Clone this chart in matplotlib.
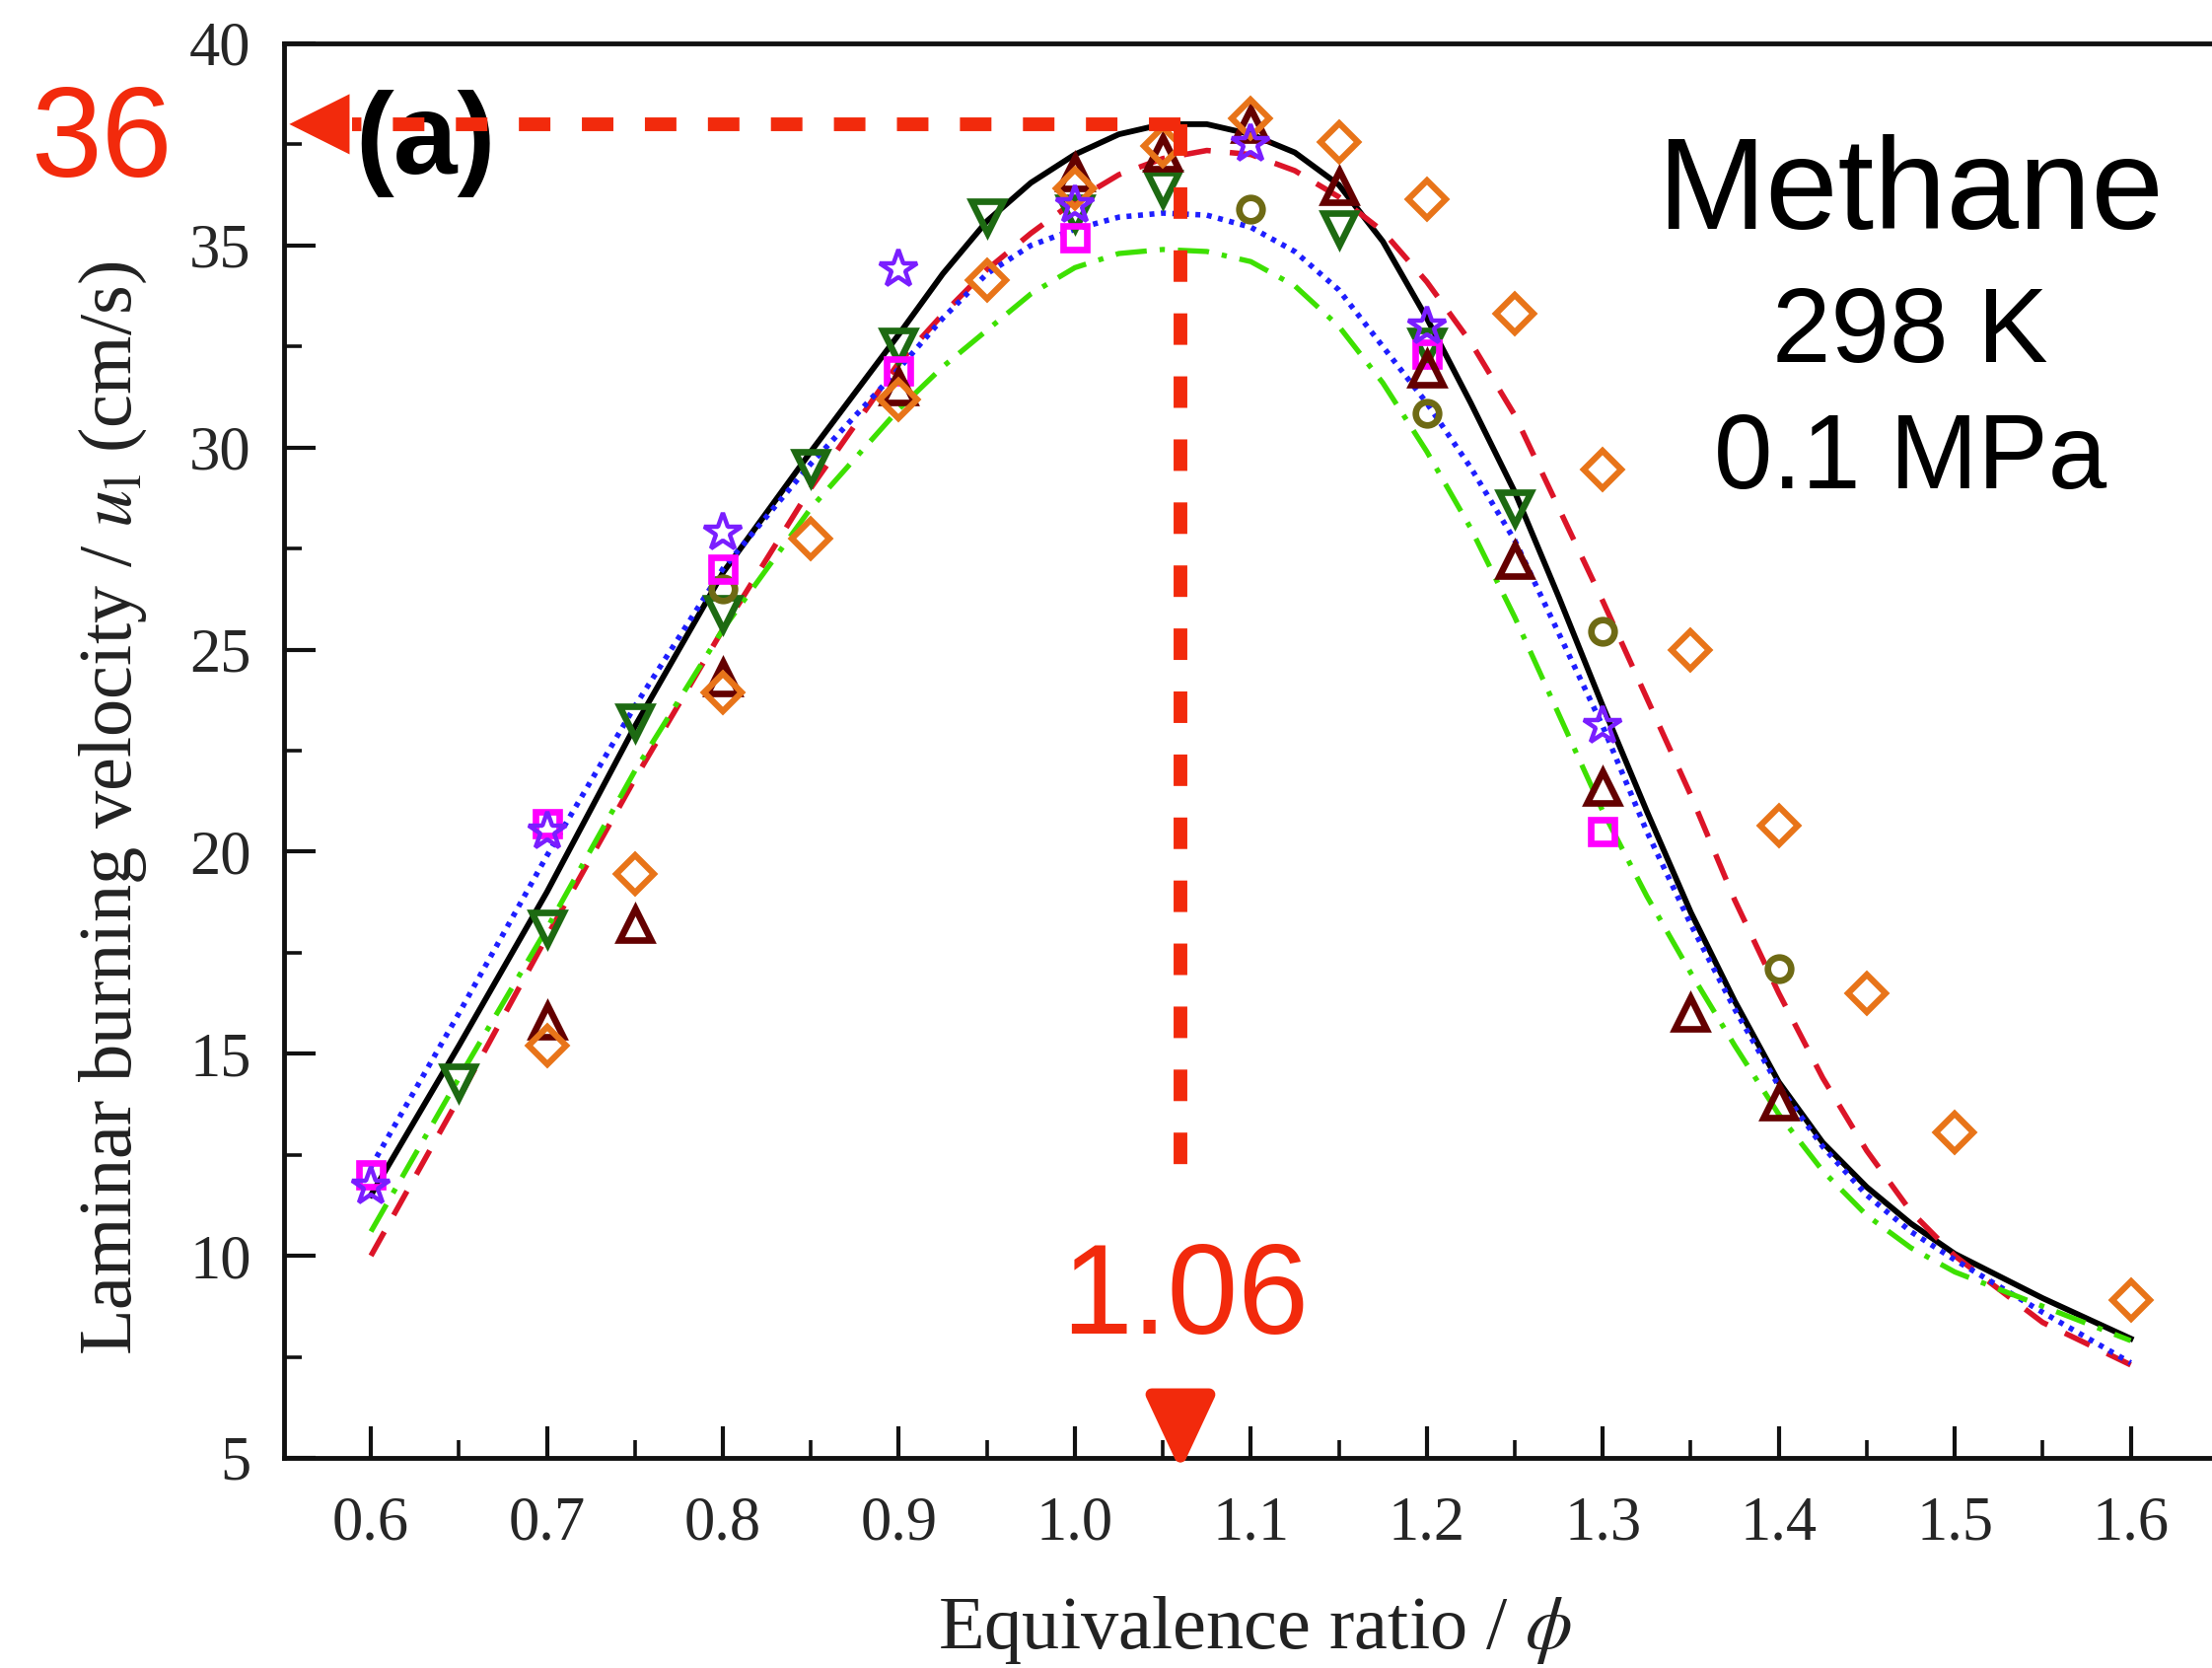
import matplotlib.pyplot as plt
from matplotlib.ticker import MultipleLocator

plt.rcParams['mathtext.fontset'] = 'stix'

serif = 'Liberation Serif'
sans = 'Liberation Sans'

# model curves (finer steps where they bend)
phi_fit = [0.60, 0.65, 0.70, 0.75, 0.80, 0.85, 0.90, 0.925, 0.95, 0.975, 1.00,
           1.025, 1.05, 1.075, 1.10, 1.125, 1.15, 1.175, 1.20, 1.225, 1.25, 1.275,
           1.30, 1.325, 1.35, 1.375, 1.40, 1.425, 1.45, 1.475, 1.50, 1.55, 1.60]
u_solid = [11.5, 15.2, 19.0, 23.1, 26.9, 29.9, 32.8, 34.3, 35.6, 36.55, 37.25,
           37.75, 38.0, 38.0, 37.75, 37.3, 36.5, 35.1, 33.2, 31.1, 28.9, 26.3,
           23.6, 21.0, 18.5, 16.3, 14.3, 12.8, 11.7, 10.8, 10.05, 8.95, 7.95]
u_dashed = [10.0, 13.9, 17.9, 21.8, 25.5, 29.0, 32.1, 33.3, 34.4, 35.3, 36.1,
            36.75, 37.15, 37.35, 37.25, 36.85, 36.2, 35.35, 34.1, 32.6, 30.8, 28.5,
            26.2, 23.8, 21.4, 18.8, 16.5, 14.4, 12.6, 11.1, 10.0, 8.35, 7.3]
u_dotted = [12.2, 16.0, 19.9, 23.6, 27.0, 29.6, 31.95, 33.2, 34.3, 35.0, 35.4,
            35.7, 35.8, 35.75, 35.45, 34.85, 33.9, 32.5, 31.1, 29.5, 27.7, 25.4,
            23.1, 20.5, 18.2, 16.1, 14.2, 12.7, 11.5, 10.6, 9.9, 8.6, 7.35]
u_dashdot = [10.6, 14.4, 18.1, 22.0, 25.5, 28.5, 30.95, 32.0, 32.9, 33.8, 34.45,
             34.8, 34.9, 34.85, 34.6, 34.0, 33.0, 31.6, 29.9, 28.0, 25.8, 23.4,
             21.0, 18.9, 17.0, 15.2, 13.5, 12.1, 11.0, 10.2, 9.6, 8.75, 7.9]

# measured points
sq_phi = [0.6, 0.7, 0.8, 0.9, 1.0, 1.2, 1.3]
sq_u = [12.0, 20.7, 27.0, 31.9, 35.2, 32.3, 20.5]

star_phi = [0.6, 0.7, 0.8, 0.9, 1.0, 1.1, 1.2, 1.3]
star_u = [11.7, 20.5, 27.9, 34.4, 36.0, 37.5, 33.0, 23.1]

dtri_phi = [0.65, 0.7, 0.75, 0.8, 0.85, 0.9, 0.95, 1.0, 1.05, 1.15, 1.2, 1.25]
dtri_u = [14.3, 18.1, 23.2, 25.9, 29.5, 32.5, 35.7, 35.8, 36.4, 35.4, 32.5, 28.5]

utri_phi = [0.7, 0.75, 0.8, 0.9, 1.0, 1.05, 1.1, 1.15, 1.2, 1.25, 1.3, 1.35, 1.4]
utri_u = [15.8, 18.2, 24.3, 31.5, 36.8, 37.3, 38.0, 36.45, 31.95, 27.2, 21.6, 16.0, 13.8]

dia_phi = [0.7, 0.75, 0.8, 0.85, 0.9, 0.95, 1.0, 1.05, 1.1, 1.15, 1.2, 1.25,
           1.3, 1.35, 1.4, 1.45, 1.5, 1.6]
dia_u = [15.2, 19.45, 23.95, 27.75, 31.2, 34.15, 36.4, 37.45, 38.15, 37.55, 36.15,
         33.3, 29.45, 25.0, 20.65, 16.5, 13.05, 8.9]

circ_phi = [0.8, 1.1, 1.2, 1.3, 1.4]
circ_u = [26.5, 35.9, 30.85, 25.45, 17.1]

# red markup on top of the figure
peak_phi = 1.06
peak_u = 38.0
peak_u_text = '36'
peak_phi_text = '1.06'
vline_bottom = 11.9

red = '#f22a0c'

fig = plt.figure(figsize=(22.43, 16.91), dpi=100)
ax = fig.add_axes([0.1284, 0.126, 0.8716, 0.848])

ax.plot(phi_fit, u_solid, color='black', lw=4.2, zorder=3)
ax.plot(phi_fit, u_dashed, color='#dc1428', lw=4.0, ls=(0, (5, 3.5)), zorder=3)
ax.plot(phi_fit, u_dotted, color='#1e1eff', lw=4.0, ls=(0, (0.9, 1.2)), zorder=3)
ax.plot(phi_fit, u_dashdot, color='#3de000', lw=3.8, ls=(0, (6, 2.5, 1, 2.5)), zorder=3)

mk = dict(ls='none', mfc='none', zorder=4)
ax.plot(dtri_phi, dtri_u, marker='v', ms=23, mec='#1d6a12', mew=4.8, **mk)
ax.plot(circ_phi, circ_u, marker='o', ms=17, mec='#6e6a14', mew=4.8, **mk)
ax.plot(sq_phi, sq_u, marker='s', ms=17, mec='#ff00ff', mew=4.8, **mk)
ax.plot(utri_phi, utri_u, marker='^', ms=23, mec='#640000', mew=4.8, **mk)
ax.plot(dia_phi, dia_u, marker='D', ms=19, mec='#e87419', mew=4.5, **mk)
ax.plot(star_phi, star_u, marker='*', ms=29, mec='#7a1eff', mew=3.2, **mk)

ax.set_xlim(0.5506, 1.6462)
ax.set_ylim(5, 40)
ax.xaxis.set_major_locator(MultipleLocator(0.1))
ax.xaxis.set_minor_locator(MultipleLocator(0.05))
ax.yaxis.set_major_locator(MultipleLocator(5))
ax.yaxis.set_minor_locator(MultipleLocator(2.5))
ax.set_xticks(ax.get_xticks())
ax.set_xticklabels(['%.1f' % t for t in ax.get_xticks()])
ax.set_xlim(0.5506, 1.6462)

ax.tick_params(which='both', direction='in', top=False, right=False, colors='#111111')
ax.tick_params(which='major', length=23, width=3)
ax.tick_params(which='minor', length=13, width=2.6)
ax.tick_params(axis='x', pad=28, labelsize=45, labelcolor='#262626')
ax.tick_params(axis='y', pad=24, labelsize=45, labelcolor='#262626')
for lab in ax.get_xticklabels() + ax.get_yticklabels():
    lab.set_family(serif)

ax.spines['right'].set_visible(False)
for s in ['left', 'bottom', 'top']:
    ax.spines[s].set_linewidth(3.5)
    ax.spines[s].set_color('#111111')

fig.text(0.5676, 0.0118, r'Equivalence ratio / $\phi$', ha='center', va='baseline',
         fontsize=55, family=serif, color='#222222')
fig.text(0.051, 0.5157, r'Laminar burning velocity / $u_\mathrm{l}$ (cm/s)', rotation=90,
         ha='center', va='center', fontsize=55, family=serif, color='#222222')

# panel tag sits under the red guide line
ax.text(0.1605, 0.896, '(a)', ha='left', va='baseline', fontsize=84,
        family=sans, fontweight='bold', color='black', transform=fig.transFigure,
        zorder=5)

fig.text(0.8636, 0.863, 'Methane', ha='center', va='baseline', fontsize=95, family=sans)
fig.text(0.8636, 0.7831, '298 K', ha='center', va='baseline', fontsize=77, family=sans)
fig.text(0.8636, 0.7073, '0.1 MPa', ha='center', va='baseline', fontsize=77, family=sans)

# dashed guide lines to the peak
x0 = ax.get_xlim()[0]
ax.plot([peak_phi, 0.589], [peak_u, peak_u], color=red, lw=10, ls=(0, (2.3, 2.3)),
        zorder=10, clip_on=False)
ax.plot([peak_phi, peak_phi], [peak_u, vline_bottom], color=red, lw=10,
        ls=(0, (2.3, 2.3)), zorder=10, clip_on=False)
ax.annotate('', xy=(x0 + 0.003, peak_u), xytext=(0.6, peak_u),
            arrowprops=dict(arrowstyle='-|>,head_length=44,head_width=22',
                            mutation_scale=1, color=red, lw=0,
                            shrinkA=0, shrinkB=0),
            zorder=11, annotation_clip=False)
ax.annotate('', xy=(peak_phi, 4.68), xytext=(peak_phi, 6.45),
            arrowprops=dict(arrowstyle='-|>,head_length=45,head_width=21',
                            mutation_scale=1, color=red, lw=9,
                            shrinkA=0, shrinkB=0),
            zorder=11, annotation_clip=False)

fig.text(0.0459, 0.8941, peak_u_text, ha='center', va='baseline', fontsize=93,
         family=sans, color=red)
fig.text(0.5357, 0.2005, peak_phi_text, ha='center', va='baseline', fontsize=93,
         family=sans, color=red)

fig.savefig('out.png', dpi=100)
